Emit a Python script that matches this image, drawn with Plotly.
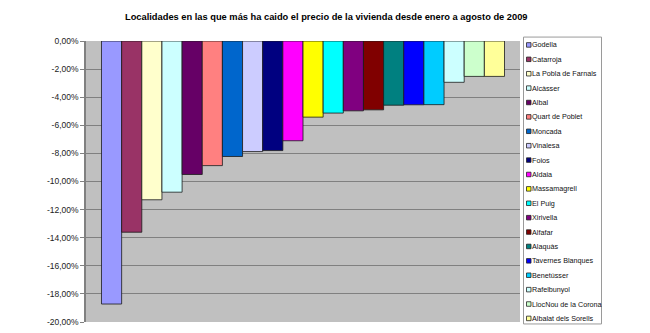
import plotly.graph_objects as go

title = "Localidades en las que más ha caido el precio de la vivienda desde enero a agosto de 2009"

localidades = [
    "Godella", "Catarroja", "La Pobla de Farnals", "Alcàsser", "Albal",
    "Quart de Poblet", "Moncada", "Vinalesa", "Foios", "Aldaia",
    "Massamagrell", "El Puig", "Xirivella", "Alfafar", "Alaquàs",
    "Tavernes Blanques", "Benetússer", "Rafelbunyol", "LlocNou de la Corona",
    "Albalat dels Sorells",
]
# variación del precio (%)
variacion = [
    -18.72, -13.61, -11.30, -10.76, -9.50,
    -8.87, -8.22, -7.87, -7.80, -7.10,
    -5.42, -5.13, -4.97, -4.90, -4.57,
    -4.54, -4.53, -2.94, -2.52, -2.52,
]
colores = [
    "#9999FF", "#993366", "#FFFFCC", "#CCFFFF", "#660066",
    "#FF8080", "#0066CC", "#CCCCFF", "#000080", "#FF00FF",
    "#FFFF00", "#00FFFF", "#800080", "#800000", "#008080",
    "#0000FF", "#00CCFF", "#CCFFFF", "#CCFFCC", "#FFFF99",
]
tick_vals = [0, -2, -4, -6, -8, -10, -12, -14, -16, -18, -20]
tick_text = ["0,00%", "-2,00%", "-4,00%", "-6,00%", "-8,00%", "-10,00%",
             "-12,00%", "-14,00%", "-16,00%", "-18,00%", "-20,00%"]

W, H = 650, 333
PL, PR, PT, PB = 86, 520, 41, 327  # plot area in pixels

fig = go.Figure()
for nombre, valor, color in zip(localidades, variacion, colores):
    fig.add_trace(go.Bar(
        x=[""], y=[valor], name=nombre,
        marker=dict(color=color, line=dict(color="#1a1a1a", width=0.8)),
        showlegend=False,
    ))

def px_x(p):
    return (p - PL) / (PR - PL)

def px_y(p):
    return (PB - p) / (PB - PT)

# legend box drawn by hand to keep entries compact
shapes = [dict(type="rect", xref="paper", yref="paper",
               x0=px_x(523.5), x1=px_x(601.5), y0=px_y(329), y1=px_y(37),
               line=dict(color="#9a9a9a", width=1), fillcolor="white", layer="above")]
annotations = []
y0, step = 45.0, 14.65
for i, (nombre, color) in enumerate(zip(localidades, colores)):
    yc = y0 + i * step
    shapes.append(dict(type="rect", xref="paper", yref="paper",
                       x0=px_x(526.5), x1=px_x(531), y0=px_y(yc + 2.3), y1=px_y(yc - 2.3),
                       line=dict(color="#222222", width=0.8), fillcolor=color, layer="above"))
    annotations.append(dict(text=nombre, xref="paper", yref="paper",
                            x=px_x(530), y=px_y(yc), xanchor="left", yanchor="middle",
                            showarrow=False, font=dict(size=7.2, color="#111111")))

annotations.append(dict(text="<b>" + title + "</b>", xref="paper", yref="paper",
                        x=px_x(326), y=px_y(16.5), xanchor="center", yanchor="middle",
                        showarrow=False,
                        font=dict(family="Liberation Sans, Arial", size=9.3, color="#000000")))

fig.update_layout(
    width=W, height=H,
    margin=dict(l=PL, r=W - PR, t=PT, b=H - PB),
    paper_bgcolor="white",
    plot_bgcolor="#C0C0C0",
    barmode="group",
    bargap=0.0714,
    bargroupgap=0,
    font=dict(family="Liberation Sans, Arial, sans-serif", size=8.5, color="#222222"),
    xaxis=dict(showticklabels=False, showgrid=False, zeroline=False, showline=False,
               range=[-0.5, 0.5], fixedrange=True),
    yaxis=dict(range=[-20, 0], tickvals=tick_vals, ticktext=tick_text,
               showgrid=True, gridcolor="#808080", gridwidth=1,
               zeroline=False, showline=True, linecolor="#808080", linewidth=1.5,
               ticks="outside", ticklen=4, tickcolor="#808080",
               ticklabelstandoff=0,
               tickfont=dict(size=8.5, color="#222222")),
    shapes=shapes,
    annotations=annotations,
)

fig.write_html("out.html")
